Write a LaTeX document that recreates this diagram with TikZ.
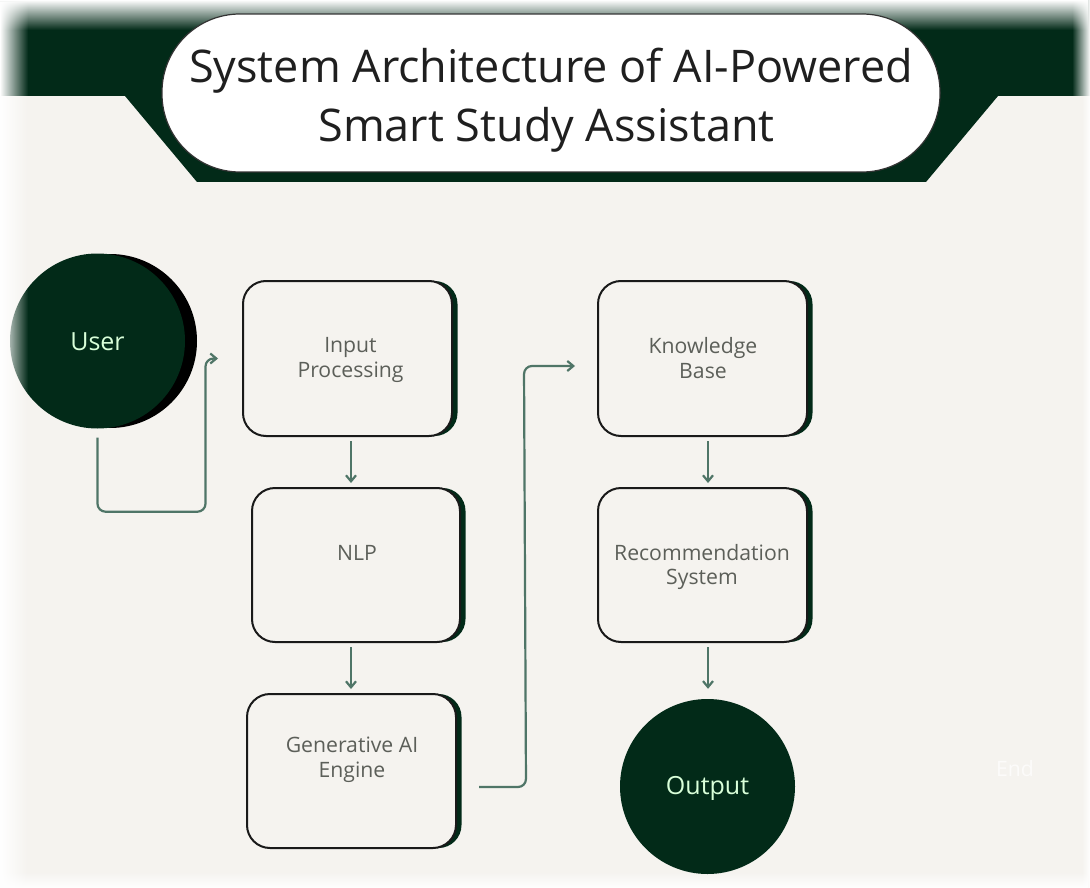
\documentclass[tikz,border=0pt]{standalone}
\usepackage{fontspec}
\setmainfont{Open Sans}
\usetikzlibrary{calc,arrows.meta,fadings,shadows}
\definecolor{pagebg}{HTML}{F5F3EF}
\definecolor{darkgreen}{HTML}{022A18}
\definecolor{linkgreen}{HTML}{4F7567}
\definecolor{labelgrey}{HTML}{5C5F59}
\tikzset{
  boxnode/.style={draw=black!90,line width=2pt,rounded corners=23pt,fill=pagebg,inner sep=0pt,
    general shadow={shadow xshift=5.5pt,shadow yshift=0pt,fill=darkgreen,rounded corners=23pt}},
  discnode/.style={circle,fill=darkgreen,inner sep=0pt},
  lbl/.style={text=labelgrey,align=center,inner sep=0pt,font=\fontsize{21.2}{24.5}\selectfont},
  disclbl/.style={text=white!85!green,align=center,inner sep=0pt,font=\fontsize{25}{28}\selectfont},
  link/.style={draw=linkgreen,line width=2.2pt,rounded corners=8pt,-{Straight Barb[length=6pt,width=10pt]}},
  fadestrip/.style={fill=white}
}
\begin{document}
\begin{tikzpicture}[x=1pt,y=-1pt]
\useasboundingbox (0,0) rectangle (1090,888);
\fill[pagebg] (0,0) rectangle (1090,888);
% header band
\fill[darkgreen] (0,0) -- (1090,0) -- (1090,96) -- (998,96) -- (926,182) -- (197,182) -- (125,96) -- (0,96) -- cycle;
% top and right soft edges of the band
\fill[fadestrip,path fading=south] (0,0) rectangle (1090,30);
\fill[fadestrip,path fading=west] (1072,0) rectangle (1090,96);
\fill[fadestrip,path fading=west] (1082,96) rectangle (1090,888);
\fill[fadestrip,path fading=north] (0,872) rectangle (1090,888);
% title
\node[draw=black!80,line width=1.2pt,fill=white,rounded corners=78pt,minimum width=778pt,minimum height=158pt,inner sep=0pt] (title) at (551,93) {};
\node[text=black!88,align=center,inner sep=0pt,font=\fontsize{45}{59}\selectfont] (titletext) at (551,100) {System Architecture of AI-Powered\\Smart Study Assistant\hspace*{9pt}};
% discs
\node[discnode,fill=black,minimum size=174pt] (usershadow) at (110,341) {};
\node[discnode,minimum size=175pt] (user) at (97.5,341) {};
\node[discnode,minimum size=175pt] (output) at (707.5,786.5) {};
% soft left edge
\fill[fadestrip,path fading=east] (0,0) rectangle (28,888);
% boxes
\node[boxnode,minimum width=209pt,minimum height=155pt] (input) at (347.5,358.5) {};
\node[boxnode,minimum width=208pt,minimum height=154pt] (nlp) at (356,565) {};
\node[boxnode,minimum width=209pt,minimum height=154pt] (gen) at (351.5,771) {};
\node[boxnode,minimum width=209pt,minimum height=155pt] (kb) at (702.5,358.5) {};
\node[boxnode,minimum width=209pt,minimum height=154pt] (rec) at (702.5,565) {};
% labels
\node[disclbl] (usertext) at (97.5,341.5) {User};
\node[disclbl] (outputtext) at (707.5,788.5) {Output};
\node[lbl] (inputtext) at (350.5,360) {Input\\Processing};
\node[lbl] (nlptext) at (357,553) {NLP};
\node[lbl] (gentext) at (352,760) {Generative AI\\Engine};
\node[lbl] (kbtext) at (703,358) {Knowledge\\Base};
\node[lbl] (rectext) at (702,567) {Recommendation\\System};
\node[lbl,text=white!70!pagebg] (endtext) at (1015,769) {End};
% connectors
\draw[link,shorten <=9pt,shorten >=24pt] (user.south) -- ($(user.south)+(0,83)$) -- ($(user.south)+(108,83)$) -- (input.west -| {$(user.south)+(108,0)$}) -- (input.west);
\draw[link] ($(input.south)+(3.5,4)$) -- ($(nlp.north)+(-5,-4)$);
\draw[link] ($(nlp.south)+(-5,4)$) -- ($(gen.north)+(-0.5,-4)$);
\draw[link] ($(gen.east)+(22,16)$) -- ($(gen.east)+(69,16)$) -- ($(kb.west)+(-73,7.5)$) -- ($(kb.west)+(-22,7.5)$);
\draw[link] ($(kb.south)+(5.5,4)$) -- ($(rec.north)+(5.5,-4)$);
\draw[link] ($(rec.south)+(5.5,4)$) -- ($(output.north)+(0.5,-10)$);
\end{tikzpicture}
\end{document}
